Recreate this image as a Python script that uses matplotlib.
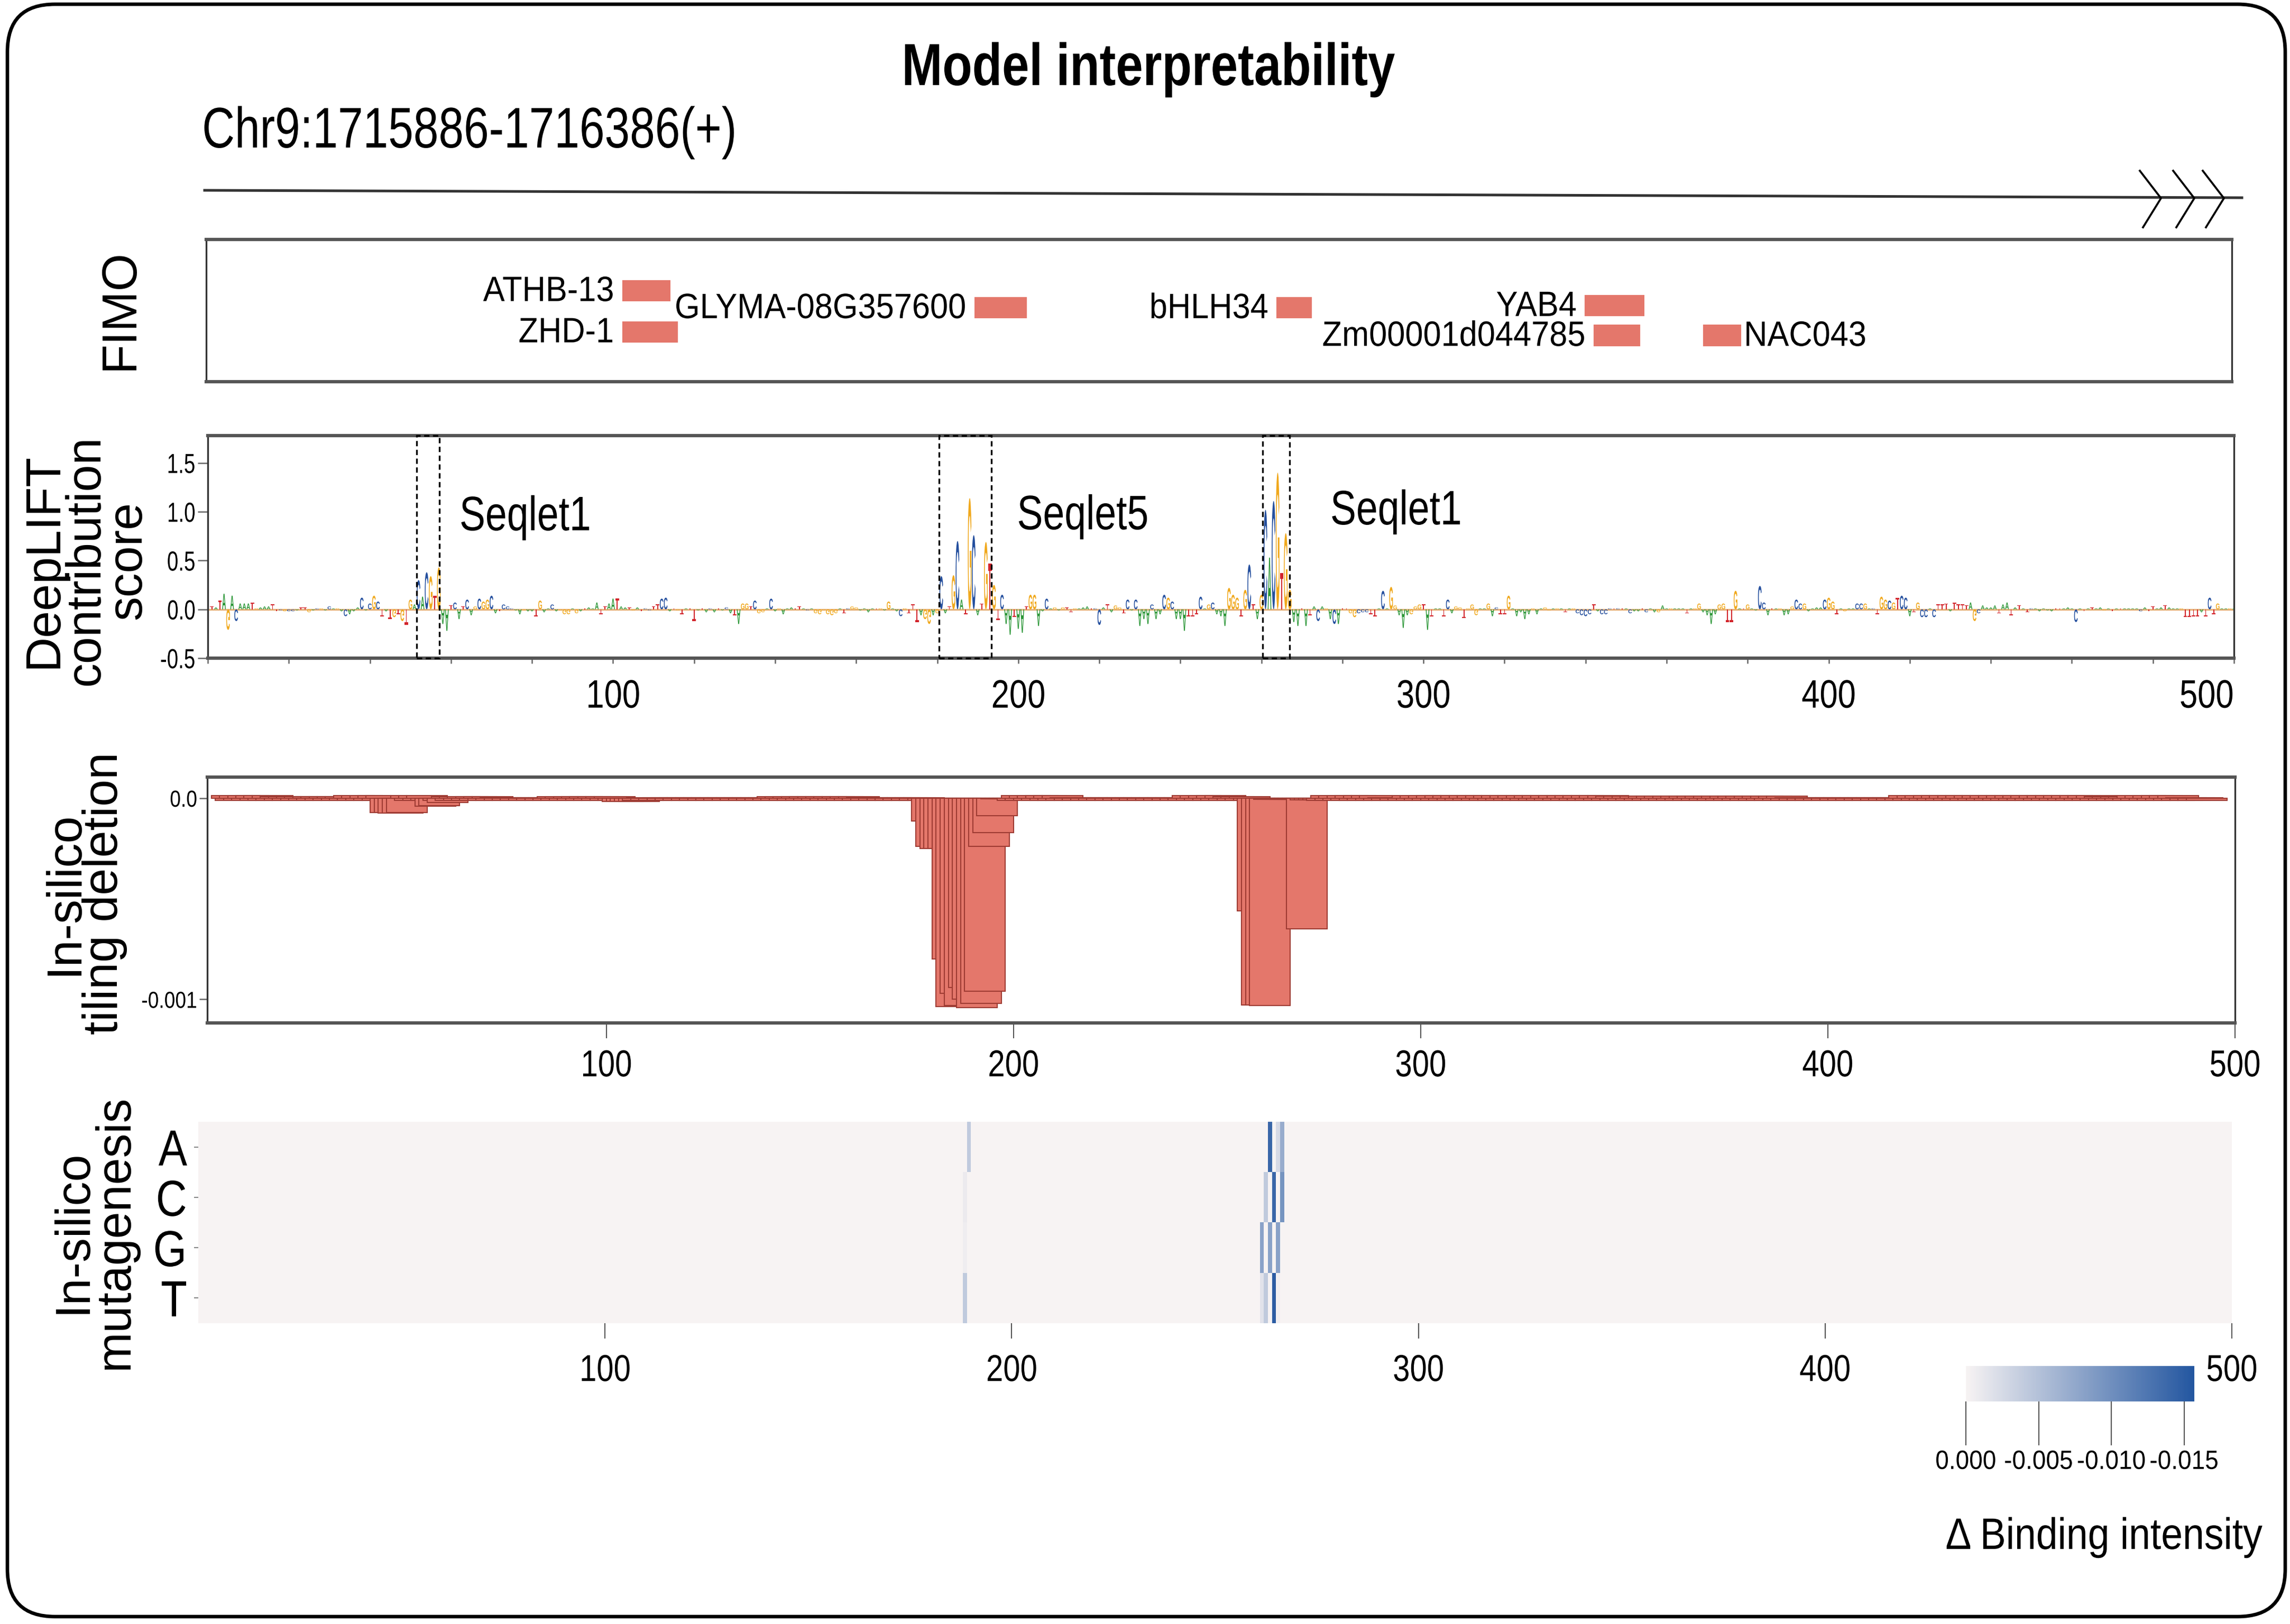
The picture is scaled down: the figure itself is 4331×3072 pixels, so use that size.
import numpy as np
import matplotlib
matplotlib.use('Agg')
import matplotlib.pyplot as plt
import matplotlib.transforms as mtransforms
from matplotlib.patches import Rectangle, FancyBboxPatch, PathPatch
from matplotlib.patheffects import AbstractPathEffect
from matplotlib.textpath import TextPath
from matplotlib.font_manager import FontProperties
from matplotlib.colors import LinearSegmentedColormap

# ---------------- data ----------------
title = 'Model interpretability'
region = 'Chr9:1715886-1716386(+)'

# FIMO motif hits (bp on the 500 bp window)
fimo_names = ['ATHB-13', 'ZHD-1', 'GLYMA-08G357600', 'bHLH34', 'YAB4', 'Zm00001d044785', 'NAC043']
fimo_start = [102.7, 102.7, 189.6, 264.2, 340.3, 342.5, 369.5]
fimo_end = [114.6, 116.4, 202.6, 272.9, 355.0, 354.0, 378.9]
fimo_row = [0.64, 0.35, 0.52, 0.52, 0.535, 0.325, 0.325]
fimo_side = ['left', 'left', 'left', 'left', 'left', 'left', 'right']

# DeepLIFT contribution per base (positions 1..500)
seq = ('TATAGACAAATGAAATTCGCCATTGACGACAGACAAACACGCTATGTGTG'
       'ACACGTGAATCATCAGCGGCATCCCAAGAATGAACAGGGAGATAAATTAA'
       'TAATGATCCTTCCATGTATTATACATACATAGGTCGGACAGAAATTACAG'
       'GGGGGATCGGAAAATGAGAACGTTTAGGAGCATGCATGCATGTGTCAATA'
       'ATGGAACAGAGTTGAAATCCATAGGTCACAAACAACGCAAATTTCAGCAA'
       'AGGGTGCTAGCACGTGGAATATACAGACATTGGCCCTTACAGGAAAGGGT'
       'ATAATCAGGTGGGAAGACTTGAAAAAGAAGGAGATAGCCCCTACCCTCTA'
       'CAATCAAGAAGAAATAGGAAAAGGTTGATGAACCATAGAAGCCGAAAACG'
       'GTAGAACCGACTGGCGTCCATGCCACTTTATTTTAGCAAAATAATATATC'
       'AAAAATTAAACATATAAGATATAAAACATTAATAAAGTTTTATCTGAAGA')
contrib = [
    .03, .02, .09, .16, -.21, .14, -.12, .06, .06, .06, .07, .01, .02, .03, .03, .05, -.02, -.01, -.02, -.02,
    -.02, -.01, .02, .02, -.03, -.01, .01, .01, -.01, .03, .01, .01, -.02, -.07, -.05, -.02, .02, .12, -.01, .06,
    .14, .08, -.07, -.02, -.10, -.08, -.05, -.12, -.16, .10,
    .05, .30, .13, .38, .34, .14, .43, -.15, -.22, .04, .07, -.10, .03, .10, -.06, .03, .11, .08, .10, .14,
    -.04, -.02, .05, .03, .01, -.01, -.05, -.01, -.02, -.02, -.07, .09, -.03, .01, .05, -.02, -.01, -.05, -.05, .01,
    -.04, -.02, .01, .02, .01, .07, -.05, .03, .06, .11,
    .11, .03, .02, .02, -.01, .02, -.02, .01, -.01, .03, .05, .11, .12, -.02, .01, -.01, -.05, .01, .01, -.12,
    -.01, .01, -.03, .01, -.03, .01, -.01, .02, -.04, -.06, -.15, .06, .06, .03, .09, -.04, -.03, .01, .11, -.02,
    .01, -.05, .01, .02, .01, .03, .01, -.01, .01, -.04,
    -.05, -.01, -.05, -.06, -.04, .01, -.04, .01, .03, .02, -.01, .01, -.03, .01, .01, .01, -.01, .08, .01, -.02,
    -.07, .01, -.04, .05, -.13, -.06, -.10, -.15, -.06, -.04, .34, -.04, .03, .35, .70, .10, -.05, 1.14, .76, -.06,
    .06, .69, .47, .25, -.11, .15, -.15, -.26, -.08, -.20,
    -.24, .03, .15, .15, -.17, -.02, .11, .01, .02, -.01, .02, .02, -.03, .01, .01, .02, .03, .01, .01, -.16,
    .02, .05, -.03, .04, .02, -.04, .10, -.01, .10, -.17, -.10, -.15, .05, -.10, -.05, .15, .12, .08, -.10, -.10,
    -.22, -.07, -.07, -.05, .13, .01, .05, .07, -.05, -.07,
    -.17, .22, .15, .12, -.07, .20, .46, .05, -.10, .15, 1.02, .53, 1.11, 1.40, .37, .78, .20, -.13, -.17, .01,
    -.17, -.06, .03, -.12, .03, .01, -.10, -.15, -.15, .01, .01, -.04, -.08, -.04, -.03, -.03, -.05, -.07, .01, .19,
    .01, .23, .04, -.06, -.19, -.06, -.05, .03, .05, .05,
    -.21, -.07, .01, .01, -.07, .10, -.04, .03, .02, -.09, .01, .05, -.06, .01, .01, .06, -.07, .02, -.05, -.05,
    .14, .01, -.07, -.03, -.10, -.05, .01, -.05, .01, .02, -.01, .01, .01, .01, -.03, .01, .01, -.04, -.06, -.07,
    -.05, .05, -.02, -.05, -.05, .01, .01, .01, .01, .01,
    -.04, -.02, -.02, .01, -.03, .01, -.03, -.03, .04, .01, .01, .01, .01, .01, -.04, .01, .01, .06, -.03, -.06,
    -.15, -.05, .05, .06, -.13, -.13, .19, .01, .01, .05, .01, -.01, .24, .07, -.06, .01, .01, .01, -.06, -.05,
    .03, .10, .06, .06, -.02, .01, .02, .02, .10, .12,
    .08, -.05, .01, -.02, .01, .01, .06, .06, .06, .01, .01, -.05, .13, .10, .09, .07, .12, .14, .12, -.07,
    -.03, .07, -.08, -.08, .01, -.08, .05, .05, .06, -.02, .07, .05, .05, .04, .07, -.12, -.04, .04, .02, .02,
    .04, -.04, .05, .07, -.06, .02, .04, .01, -.03, .01,
    .01, -.02, .01, -.01, -.02, .01, .01, .01, .02, .01, -.13, .01, -.02, .01, .02, .01, .02, -.01, .01, -.02,
    .01, .01, .01, .01, .01, .01, -.02, .02, -.02, .03, .01, .02, .04, .02, .01, .01, .01, -.08, -.08, -.07,
    -.07, -.03, -.07, .12, -.05, .06, .01, .01, .01, .01,
]
assert len(seq) == 500 and len(contrib) == 500

seqlet_names = ['Seqlet1', 'Seqlet5', 'Seqlet1']
seqlet_start = [51.5, 180.4, 260.3]
seqlet_end = [57.2, 193.4, 266.9]

# in-silico tiling deletion: 10 bp windows, start 3..488, delta in 1e-6
tile_start = list(range(3, 489))
tile_delta = [
    13, -10, 13, -10, 13, -10, 13, -10, 13, -10,
    13, -10, 8, -10, 8, -10, 8, -10, 8, -10,
    8, -10, 8, -10, 8, -10, 8, -10, 8, -10,
    13, -10, 13, -10, 13, -10, 13, -10, 13, -70,
    -72, -75, -73, -70, 13, -10, 13, -10, 13, -10,
    -40, -38, -10, -20, 8, -10, 8, -10, 8, -10,
    8, -10, 8, -10, 8, -10, 3, -10, 3, -10,
    3, -10, 3, -10, 3, -10, 3, -10, 3, -10,
    8, -10, 8, -10, 8, -10, 8, -10, 8, -10,
    8, -10, 8, -10, 8, -10, -15, -15, -15, -15,
    -15, -10, 3, -10, 3, -10, 3, -10, 3, -10,
    3, -10, 3, -10, 3, -10, 3, -10, 3, -10,
    3, -10, 3, -10, 3, -10, 3, -10, 3, -10,
    3, -10, 3, -10, 8, -10, 8, -10, 8, -10,
    8, -10, 8, -10, 8, -10, 8, -10, 8, -10,
    8, -10, 8, -10, 8, -10, 3, -10, 3, -10,
    3, -10, 3, -10, 3, -10, 3, -10, 3, -10,
    3, -10, -112, -240, -250, -250, -250, -800, -1035, -970,
    -1030, -940, -1000, -1040, -1020, -960, -240, -170, -87, -3,
    -3, -3, -3, -10, 13, -10, 13, -10, 13, -10,
    13, -10, 13, -10, 13, -10, 3, -10, 3, -10,
    3, -10, 3, -10, 3, -10, 3, -10, 3, -10,
    3, -10, 3, -10, 3, -10, 3, -10, 3, -10,
    3, -10, 3, -10, 3, -10, 13, -10, 13, -10,
    13, -10, 13, -10, 13, -10, 8, -10, 8, -10,
    8, -10, -560, -1027, -1027, -1030, -5, -5, -5, -5,
    -5, -5, -5, -5, -648, -8, -8, -8, -8, -10,
    13, -10, 13, -10, 13, -10, 13, -10, 13, -10,
    13, -10, 13, -10, 3, -10, 3, -10, 3, -10,
    13, -10, 13, -10, 13, -10, 13, -10, 13, -10,
    13, -10, 13, -10, 13, -10, 13, -10, 13, -10,
    13, -10, 13, -10, 13, -10, 13, -10, 13, -10,
    13, -10, 13, -10, 13, -10, 13, -10, 13, -10,
    13, -10, 13, -10, 13, -10, 13, -10, 13, -10,
    11, -10, 11, -10, 11, -10, 11, -10, 11, -10,
    11, -10, 11, -10, 11, -10, 11, -10, 11, -10,
    11, -10, 11, -10, 11, -10, 11, -10, 11, -10,
    11, -10, 11, -10, 11, -10, 11, -10, 11, -10,
    11, -10, 11, -10, 3, -10, 3, -10, 3, -10,
    3, -10, 3, -10, 3, -10, 3, -10, 3, -10,
    3, -10, 3, -10, 3, -10, 3, -10, 3, -10,
    3, -10, 13, -10, 13, -10, 13, -10, 13, -10,
    13, -10, 13, -10, 13, -10, 13, -10, 13, -10,
    13, -10, 13, -10, 13, -10, 13, -10, 13, -10,
    13, -10, 13, -10, 13, -10, 13, -10, 13, -10,
    13, -10, 13, -10, 13, -10, 13, -10, 13, -10,
    8, -10, 8, -10, 8, -10, 8, -10, 13, -10,
    13, -10, 13, -10, 13, -10, 13, -10, 13, -10,
    3, -10, 3, -10, 3, -10,
]
assert len(tile_delta) == len(tile_start)

# in-silico mutagenesis: non-zero cells (base, column, delta binding)
ism_bases = ['A', 'C', 'G', 'T']
ism_base = ['A', 'A', 'A', 'A', 'C', 'C', 'C', 'C', 'G', 'G', 'G', 'G', 'T', 'T', 'T', 'T', 'T']
ism_col = [189, 263, 265, 266, 188, 262, 264, 266, 188, 261, 263, 265, 188, 261, 262, 264, 265]
ism_val = [-0.004, -0.014, -0.0024, -0.007, -0.0008, -0.004, -0.014, -0.0095,
           -0.0006, -0.008, -0.008, -0.008, -0.004, -0.0016, -0.004, -0.015, -0.0004]
cbar_ticks = [0.0, -0.005, -0.010, -0.015]

# ---------------- figure ----------------
W, H = 4331, 3072
plt.rcParams['font.family'] = ['Liberation Sans', 'DejaVu Sans']

fig = plt.figure(figsize=(W / 300, H / 300), dpi=300)


class Squeeze(AbstractPathEffect):
    # draws the text glyphs narrower (condensed look), fixed at the alignment side
    def __init__(self, sx=0.8, anchor='left'):
        super().__init__()
        self.sx = sx
        self.anchor = anchor

    def draw_path(self, renderer, gc, tpath, affine, rgbFace=None):
        ext = tpath.get_extents()
        pts = affine.transform([[ext.x0, ext.y0], [ext.x1, ext.y1]])
        x0, x1 = min(pts[:, 0]), max(pts[:, 0])
        px = {'left': x0, 'center': 0.5 * (x0 + x1), 'right': x1}[self.anchor]
        sq = mtransforms.Affine2D().translate(-px, 0).scale(self.sx, 1).translate(px, 0)
        renderer.draw_path(gc, tpath, affine + sq, rgbFace)


def narrow(t, sx=0.8):
    t.set_path_effects([Squeeze(sx, t.get_horizontalalignment())])
    return t


def axes_px(x0, y0, x1, y1):
    return fig.add_axes([x0 / W, 1 - y1 / H, (x1 - x0) / W, (y1 - y0) / H])


bg = fig.add_axes([0, 0, 1, 1])
bg.set_xlim(0, W)
bg.set_ylim(H, 0)
bg.axis('off')
bg.add_patch(FancyBboxPatch((14, 8), 4308, 3050, boxstyle='round,pad=0,rounding_size=90',
                            fc='none', ec='black', lw=1.6, clip_on=False))

narrow(bg.text(2171, 132, title, fontsize=27, fontweight='bold', ha='center', va='center'), 0.82)
narrow(bg.text(381, 251, region, fontsize=26, ha='left', va='center'), 0.79)

# gene track line with strand chevrons
bg.plot([387, 4240], [360, 374], color='#333333', lw=1.2)
for cx in [4047, 4110, 4166]:
    bg.plot([cx, cx + 40, cx + 6], [323, 375, 430], color='black', lw=0.9)

# y labels of the panels
ylab = dict(rotation=90, ha='center', va='center', fontsize=22,
            multialignment='center', linespacing=0.9)
bg.text(227, 586, 'FIMO', **ylab)
bg.text(163, 1060, 'DeepLIFT\ncontribution\nscore', **ylab)
bg.text(160, 1690, 'In-silico\ntiling deletion', **dict(ylab, linespacing=0.85))
bg.text(178, 2330, 'In-silico\nmutagenesis', **ylab)


def frame(ax):
    for side in ['top', 'bottom']:
        ax.spines[side].set_linewidth(1.5)
        ax.spines[side].set_color('#555555')
    for side in ['left', 'right']:
        ax.spines[side].set_linewidth(0.8)
        ax.spines[side].set_color('#333333')


# ---- FIMO ----
ax1 = axes_px(390, 453, 4221, 722)
ax1.set_xlim(0, 500)
ax1.set_ylim(0, 1)
ax1.set_xticks([])
ax1.set_yticks([])
frame(ax1)
for name, s, e, y, side in zip(fimo_names, fimo_start, fimo_end, fimo_row, fimo_side):
    ax1.add_patch(Rectangle((s, y - 0.075), e - s, 0.15, fc='#E4776B', ec='none'))
    if side == 'left':
        t = ax1.text(s - 2.0, y - 0.01, name, ha='right', va='center', fontsize=16)
    else:
        t = ax1.text(e + 0.6, y - 0.01, name, ha='left', va='center', fontsize=16)
    narrow(t, 0.92)

# ---- DeepLIFT logo ----
ax2 = axes_px(393, 824, 4225, 1245)
ax2.set_xlim(0, 500)
ax2.set_ylim(-0.5, 1.78)
frame(ax2)
ax2.axhline(0, color='#E6B27C', lw=0.8, zorder=1)

fp_logo = FontProperties(family='Liberation Sans', weight='bold')
base_color = {'A': '#2A9636', 'C': '#244F9E', 'G': '#F0A81C', 'T': '#D2232A'}
glyphs = {b: TextPath((0, 0), b, size=1, prop=fp_logo) for b in 'ACGT'}
for i, (b, v) in enumerate(zip(seq, contrib), start=1):
    p = glyphs[b]
    bb = p.get_extents()
    tr = (mtransforms.Affine2D()
          .translate(-bb.x0 - bb.width / 2, -bb.y0)
          .scale(0.9 / bb.width, v / bb.height)
          .translate(i, 0))
    ax2.add_patch(PathPatch(tr.transform_path(p), fc=base_color[b], ec='none', lw=0, zorder=3))

trans = mtransforms.blended_transform_factory(ax2.transData, ax2.transAxes)
label_dx = [4.8, 6.2, 10.0]
label_y = [0.94, 0.95, 1.0]
for name, s, e, dx, ly in zip(seqlet_names, seqlet_start, seqlet_end, label_dx, label_y):
    ax2.add_patch(Rectangle((s, 0), e - s, 1, transform=trans, fill=False, ec='black',
                            lw=0.8, ls=(0, (3, 2)), clip_on=False, zorder=5))
    narrow(ax2.text(e + dx, ly, name, fontsize=22, ha='left', va='center'), 0.8)

xt = list(range(0, 501, 20))
ax2.set_xticks(xt)
ax2.set_xticklabels([str(t) if t % 100 == 0 and t > 0 else '' for t in xt])
ax2.get_xticklabels()[-1].set_horizontalalignment('right')
ax2.tick_params(axis='x', length=2.5, width=0.6, color='#666666', labelsize=18, pad=7)
ax2.set_yticks([-0.5, 0, 0.5, 1.0, 1.5])
ax2.set_yticklabels(['-0.5', '0.0', '0.5', '1.0', '1.5'])
ax2.tick_params(axis='y', length=4.5, width=0.6, color='#666666', labelsize=12.5, pad=1)

# ---- tiling deletion ----
ax3 = axes_px(392, 1470, 4227, 1935)
ax3.bar(tile_start, np.array(tile_delta) * 1e-6, width=10, align='edge',
        color='#E4776B', edgecolor='#9E3B33', linewidth=0.5)
ax3.set_xlim(2, 500)
ax3.set_ylim(-0.001117, 0.000105)
frame(ax3)
ax3.set_xticks([100, 200, 300, 400, 500])
ax3.tick_params(axis='x', length=7, width=0.5, color='#555555', labelsize=17, pad=5)
ax3.set_yticks([0, -0.001])
ax3.set_yticklabels(['0.0', '-0.001'])
ax3.tick_params(axis='y', length=3.5, width=0.6, color='#666666', labelsize=10.5, pad=1)

# ---- in-silico mutagenesis heatmap ----
ism = np.zeros((4, 500))
for b, c, v in zip(ism_base, ism_col, ism_val):
    ism[ism_bases.index(b), c] = v
cmap = LinearSegmentedColormap.from_list('ism', ['#2356A0', '#F7F3F3'])
ax4 = axes_px(375, 2122, 4221, 2503)
im = ax4.imshow(ism, aspect='auto', cmap=cmap, vmin=-0.0157, vmax=0,
                extent=(0, 500, 4, 0), interpolation='nearest')
for side in ax4.spines.values():
    side.set_visible(False)
ax4.set_yticks([0.5, 1.5, 2.5, 3.5])
ax4.set_yticklabels(ism_bases)
ax4.tick_params(axis='y', length=2, width=0.5, color='#888888', labelsize=23, pad=3)
ax4.set_xticks([100, 200, 300, 400, 500])
ax4.tick_params(axis='x', length=7, width=0.5, color='#555555', labelsize=17, pad=7)

cax = axes_px(3718, 2584, 4150, 2651)
cb = fig.colorbar(im, cax=cax, orientation='horizontal')
cb.outline.set_visible(False)
cb.set_ticks(cbar_ticks)
cb.set_ticklabels(['0.000', '-0.005', '-0.010', '-0.015'])
cax.invert_xaxis()
cax.tick_params(length=20, width=0.5, color='#555555', labelsize=12, pad=2)
narrow(bg.text(4279, 2908, '\u0394 Binding intensity', ha='right', va='center', fontsize=20), 0.88)

# condensed tick labels like the original figure
fig.canvas.draw()
for ax in [ax2, ax3, ax4]:
    for lbl in ax.get_xticklabels():
        narrow(lbl, 0.82)
for lbl in ax2.get_yticklabels():
    narrow(lbl, 0.74)
for lbl in ax3.get_yticklabels():
    narrow(lbl, 0.85)
for lbl in ax4.get_yticklabels():
    narrow(lbl, 0.85)
for lbl in cax.get_xticklabels():
    narrow(lbl, 0.92)

fig.savefig('out.png', dpi=300)
